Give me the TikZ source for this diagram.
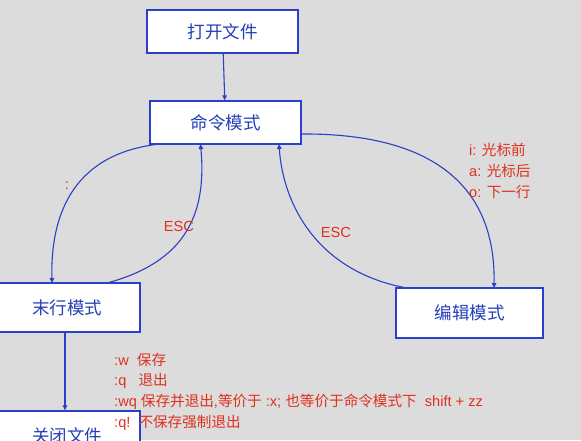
\documentclass[tikz,border=0pt]{standalone}
\usepackage{fontspec}
\setmainfont{Liberation Sans}
\newfontfamily\cjk{Noto Sans CJK SC}
\usetikzlibrary{arrows.meta}
\definecolor{bg}{HTML}{DCDCDC}
\definecolor{bblue}{HTML}{2B3FC9}
\definecolor{tblue}{HTML}{2440B8}
\definecolor{rred}{HTML}{E0301E}
\tikzset{
  box/.style={draw=bblue, line width=1.3pt, fill=white, inner sep=0pt, font=\cjk\fontsize{17.5}{19}\selectfont, text=tblue},
  conn/.style={draw=bblue, line width=1.1pt, -{Triangle[length=5pt,width=4.5pt]}},
  lbl/.style={text=rred, font=\fontsize{14.6}{16}\selectfont, inner sep=0pt},
}
\begin{document}
\begin{tikzpicture}[x=1pt,y=-1pt]
\useasboundingbox (0,0) rectangle (581,440);
\fill[bg] (0,0) rectangle (581,440);
\begin{scope}
\clip (0,0) rectangle (581,440);
\node[box, minimum width=151pt, minimum height=43pt] (open) at (222.5,31.5) {打开文件};
\node[box, minimum width=151pt, minimum height=43pt] (cmd) at (225.5,122.5) {命令模式};
\node[box, minimum width=146pt, minimum height=49pt] (last) at (67,307.5) {末行模式};
\node[box, minimum width=147pt, minimum height=50pt] (edit) at (469.5,313) {编辑模式};
\node[box, minimum width=146pt, minimum height=50pt] (close) at (67,436) {关闭文件};

\coordinate (c1s) at (160,144);
\coordinate (c1e) at (52,283);
\coordinate (c2s) at (107,283);
\coordinate (c2e) at (200.5,144);
\coordinate (c3s) at (407,288);
\coordinate (c3e) at (279,144);
\coordinate (c4s) at (301,134);
\coordinate (c4e) at (494,288);

\draw[conn] (open) -- (cmd);
\draw[conn] (c1s) .. controls (85,152) and (50,200) .. (c1e);
\draw[conn] (c2s) .. controls (185,262) and (207,215) .. (c2e);
\draw[conn] (c3s) .. controls (318,272) and (283,205) .. (c3e);
\draw[conn] (c4s) .. controls (425,133) and (496,180) .. (c4e);
\draw[conn] (last.south -| 65,0) -- (close.north -| 65,0);

\node[lbl] (colon) at (67,186) {:};
\node[lbl] (esc1) at (179,226) {ESC};
\node[lbl] (esc2) at (336,232) {ESC};
\node[lbl, anchor=west] (i) at (469,150) {i: {\cjk 光标前}};
\node[lbl, anchor=west] (a) at (469,171) {a: {\cjk 光标后}};
\node[lbl, anchor=west] (o) at (469,192) {o: {\cjk 下一行}};
\node[lbl, anchor=west] (w) at (114,360) {:w\ \ {\cjk 保存}};
\node[lbl, anchor=west] (q) at (114,381) {:q\ \ \ {\cjk 退出}};
\node[lbl, anchor=west] (wq) at (114,402) {:wq {\cjk 保存并退出},{\cjk 等价于} :x; {\cjk 也等价于命令模式下}\ \ shift + zz};
\node[lbl, anchor=west] (qq) at (114,422.5) {:q!\ \ {\cjk 不保存强制退出}};
\end{scope}
\end{tikzpicture}
\end{document}
